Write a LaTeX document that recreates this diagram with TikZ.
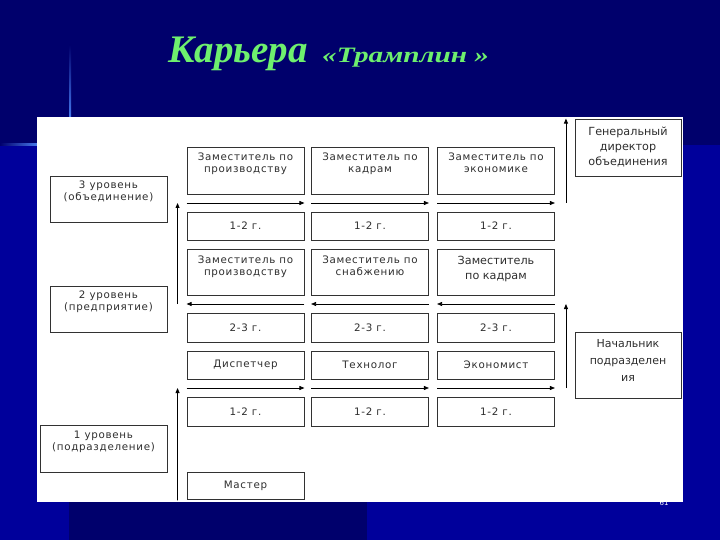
\documentclass[tikz,border=0pt]{standalone}
\usepackage{fontspec}
\usepackage{graphicx}
\usetikzlibrary{arrows.meta,calc,positioning,shadows}
\newfontfamily\boxfont[LetterSpace=7]{DejaVu Sans}
\newfontfamily\plainfont{DejaVu Sans}
\newfontfamily\titlefont{Liberation Serif}
\definecolor{navy}{RGB}{0,0,108}
\definecolor{deepblue}{RGB}{0,0,155}
\definecolor{glow}{RGB}{70,120,235}
\definecolor{titlegreen}{RGB}{110,240,110}
\definecolor{frame}{RGB}{50,50,50}
\tikzset{
  cell/.style={draw=frame, line width=0.9pt, fill=white, minimum width=117pt,
    inner sep=1pt, align=center, text=black!82,
    drop shadow={shadow xshift=.8pt, shadow yshift=-.8pt, fill=black!45, opacity=1},
    font=\boxfont\fontsize{10.3}{12}\selectfont},
  wide/.style={cell, font=\plainfont\fontsize{11.2}{15}\selectfont},
  lift/.style={text depth=#1},
  flow/.style={line width=0.8pt, -{Triangle[length=5pt,width=4pt]}},
}
\begin{document}
\begin{tikzpicture}[x=1pt,y=-1pt]
\useasboundingbox (0,0) rectangle (720,540);
\fill[navy] (0,0) rectangle (720,540);
\fill[deepblue] (683,145) rectangle (720,540);
\fill[deepblue] (0,145) rectangle (69,540);
\fill[deepblue] (367,502) rectangle (720,540);
\shade[top color=navy, bottom color=glow] (69,45) rectangle (71,117);
\shade[left color=navy, right color=glow] (0,144) rectangle (37,146);
\fill[white] (37,117) rectangle (683,502);
\node[anchor=base west, inner sep=0, text=titlegreen,
  font=\titlefont\bfseries\itshape\fontsize{39}{40}\selectfont] (title) at (168,63) {Карьера};
\node[anchor=base west, inner sep=0, text=titlegreen,
  font=\titlefont\bfseries\itshape\fontsize{22}{24}\selectfont] (subtitle) at (322,63) {\scalebox{1.33}[1]{«Трамплин »}};
\node[cell, minimum height=47pt, lift=15pt] (a1) at (245.5,170.5) {Заместитель по\\производству};
\node[cell, minimum height=47pt, lift=15pt] (a2) at (370,170.5) {Заместитель по\\кадрам};
\node[cell, minimum height=47pt, lift=15pt] (a3) at (496,170.5) {Заместитель по\\экономике};
\node[cell, minimum height=46pt, lift=13pt] (c1) at (245.5,272) {Заместитель по\\производству};
\node[cell, minimum height=46pt, lift=13pt] (c2) at (370,272) {Заместитель по\\снабжению};
\node[wide, minimum height=46pt, lift=9pt] (c3) at (496,272) {Заместитель\\по кадрам};
\node[cell, minimum height=28pt] (e1) at (245.5,365) {Диспетчер};
\node[cell, minimum height=28pt] (e2) at (370,365) {Технолог};
\node[cell, minimum height=28pt] (e3) at (496,365) {Экономист};
\foreach \c/\x in {1/245.5,2/370,3/496}{
  \node[cell, minimum height=28pt] (b\c) at (\x,226) {1-2 г.};
  \node[cell, minimum height=29pt] (d\c) at (\x,327.5) {2-3 г.};
  \node[cell, minimum height=29pt] (f\c) at (\x,411.5) {1-2 г.};
}
\node[cell, minimum height=27pt] (master) at (245.5,485.5) {Мастер};
\node[cell, minimum height=46pt, lift=17pt] (lvl3) at (108.5,199) {3 уровень\\(объединение)};
\node[cell, minimum height=46pt, lift=16pt] (lvl2) at (108.5,309) {2 уровень\\(предприятие)};
\node[cell, minimum width=127pt, minimum height=47pt, lift=15pt] (lvl1) at (103.5,448.5) {1 уровень\\(подразделение)};
\node[wide, minimum width=106pt, minimum height=57pt] (gen) at (628,147.5) {Генеральный\\директор\\объединения};
\node[wide, minimum width=106pt, minimum height=66pt, lift=10pt,
  font=\plainfont\fontsize{11}{17}\selectfont] (head) at (628,365) {Начальник\\подразделен\\ия};
\foreach \c in {1,2,3}{
  \draw[flow] ($(a\c.south west)!.5!(b\c.north west)$) -- ($(a\c.south east)!.5!(b\c.north east)$);
  \draw[flow] ($(c\c.south east)!.5!(d\c.north east)$) -- ($(c\c.south west)!.5!(d\c.north west)$);
  \draw[flow] ($(e\c.south west)!.5!(f\c.north west)$) -- ($(e\c.south east)!.5!(f\c.north east)$);
}
\coordinate (up1) at ($(c1.south west)!.5!(d1.north west)+(-9,0)$);
\coordinate (up2) at ($(master.south west)+(-9,1)$);
\coordinate (up3) at ($(a3.south east)!.5!(b3.north east)+(11,0)$);
\coordinate (up4) at ($(e3.south east)!.5!(f3.north east)+(11,0)$);
\draw[flow] (up1) -- ($(a1.south west)!.5!(b1.north west)+(-9,0)$);
\draw[flow] (up2) -- ($(e1.south west)!.5!(f1.north west)+(-9,0)$);
\draw[flow] (up3) -- (up3 |- gen.north);
\draw[flow] (up4) -- ($(c3.south east)!.5!(d3.north east)+(11,0)$);
\node[text=white, font=\plainfont\fontsize{7}{8}\selectfont] (pagenum) at (664,503) {61};
\end{tikzpicture}
\end{document}
